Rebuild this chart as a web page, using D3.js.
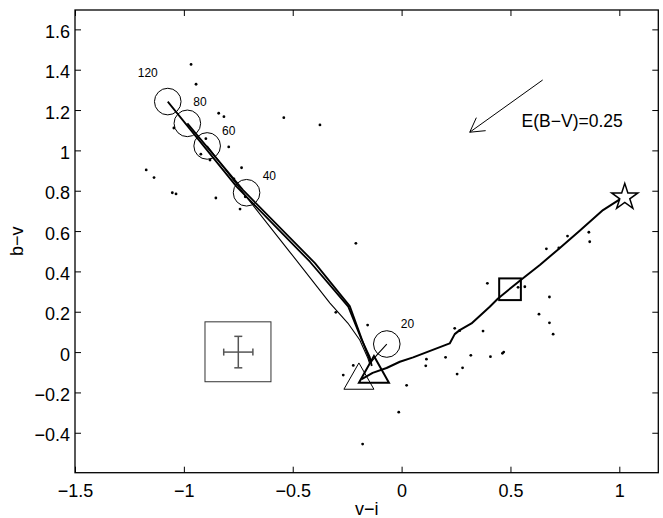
<!DOCTYPE html>
<html>
<head>
<meta charset="utf-8">
<script src="https://cdn.jsdelivr.net/npm/d3@7"></script>
<style>
  body { margin: 0; background: #fff; }
  text { font-family: "Liberation Sans", Arial, Helvetica, sans-serif; }
</style>
</head>
<body>
<script>
// ---------- data ----------
const xTickValues = [-1.5, -1, -0.5, 0, 0.5, 1];
const xTickLabels = ["\u22121.5", "\u22121", "\u22120.5", "0", "0.5", "1"];
const yTickValues = [-0.4, -0.2, 0, 0.2, 0.4, 0.6, 0.8, 1, 1.2, 1.4, 1.6];
const yTickLabels = ["\u22120.4", "\u22120.2", "0", "0.2", "0.4", "0.6", "0.8", "1", "1.2", "1.4", "1.6"];

// observed clusters (v-i, b-v)
const dotsVI = [-0.967, -0.944, -1.046, -1.173, -1.137, -1.053, -1.036, -0.853, -0.840, -0.816,
  -0.541, -0.899, -0.794, -0.922, -0.880, -0.735, -0.770, -0.718, -0.742, -0.375,
  -0.210, -0.302, -0.156, -0.222, -0.268, 0.114, 0.111, 0.202, 0.023, -0.013,
  -0.179, 0.244, 0.374, 0.318, 0.408, 0.463, 0.469, 0.280, 0.255, 0.394,
  0.535, 0.566, 0.665, 0.722, 0.762, 0.860, 0.864, 0.679, 0.631, 0.679, 0.696, 0.267];
const dotsBV = [1.426, 1.328, 1.111, 0.903, 0.865, 0.790, 0.784, 0.764, 1.184, 1.167,
  1.162, 1.058, 1.017, 0.981, 0.952, 0.914, 0.858, 0.770, 0.709, 1.126,
  0.539, 0.197, 0.134, -0.066, -0.114, -0.035, -0.068, -0.026, -0.165, -0.298,
  -0.456, 0.118, 0.104, -0.016, -0.023, -0.006, 0.000, -0.078, -0.109, 0.341,
  0.321, 0.324, 0.512, 0.516, 0.575, 0.594, 0.547, 0.273, 0.188, 0.145, 0.089, 0.106];

// model tracks
const trackA = [[-1.074, 1.242], [-0.758, 0.820], [-0.421, 0.448], [-0.245, 0.225], [-0.183, 0.060], [-0.146, -0.025], [-0.137, -0.069]];
const trackB = [[-0.984, 1.134], [-0.729, 0.804], [-0.398, 0.441], [-0.238, 0.228], [-0.178, 0.050], [-0.141, -0.055]];
const trackC = [[-0.893, 1.022], [-0.720, 0.779], [-0.513, 0.496], [-0.329, 0.243], [-0.247, 0.144], [-0.192, 0.060], [-0.155, -0.030], [-0.146, -0.060]];
const trackD = [[-0.068, 0.040], [-0.114, -0.015], [-0.138, -0.048]];
const trackRight = [[-0.183, -0.134], [-0.133, -0.103], [-0.069, -0.079], [-0.008, -0.048], [0.053, -0.026],
  [0.221, 0.043], [0.244, 0.089], [0.267, 0.109], [0.321, 0.142], [0.405, 0.225], [0.443, 0.266],
  [0.543, 0.354], [0.635, 0.432], [0.719, 0.509], [0.818, 0.602], [0.925, 0.704], [1.002, 0.757]];

// age circles
const ageLabels = ["120", "80", "60", "40", "20"];
const ageVI = [-1.074, -0.984, -0.893, -0.712, -0.068];
const ageBV = [1.242, 1.134, 1.022, 0.790, 0.040];
const ageLabelVI = [-1.212, -0.957, -0.825, -0.638, -0.004];
const ageLabelBV = [1.363, 1.220, 1.076, 0.853, 0.119];

// special markers
const starPt = [1.025, 0.768];
const squarePt = [0.498, 0.3115];
const triThickPt = [-0.127, -0.086];
const triThinPt = [-0.196, -0.119];

// reddening vector
const arrowFrom = [0.648, 1.349];
const arrowTo = [0.313, 1.090];
const arrowText = "E(B\u2212V)=0.25";
const arrowTextPt = [0.551, 1.118];

// error bar inset
const errCenter = [-0.75, 0];
const errVI = 0.067;
const errBV = 0.078;
const errBoxVI = [-0.903, -0.600];
const errBoxBV = [-0.147, 0.150];

const xLabel = "v\u2212i";
const yLabel = "b\u2212v";

// ---------- drawing ----------
const W = 663, H = 518;
const svg = d3.select("body").append("svg").attr("width", W).attr("height", H);

const x = d3.scaleLinear().domain([-1.5, 1.179]).range([75, 658.3]);
const y = d3.scaleLinear().domain([-0.598, 1.696]).range([472.7, 10]);

const FS = "18px";

function styleAxis(g) {
  g.select(".domain").remove();
  g.selectAll(".tick line").attr("stroke", "#000").attr("stroke-width", 1);
  g.selectAll(".tick text").attr("fill", "#000").style("font-size", FS)
    .style("font-family", '"Liberation Sans", Arial, sans-serif');
}

svg.append("g").attr("transform", `translate(0,${y.range()[0]})`)
  .call(d3.axisBottom(x).tickValues(xTickValues).tickFormat((d, i) => xTickLabels[i])
    .tickSizeInner(-6).tickSizeOuter(0).tickPadding(11.5))
  .call(styleAxis);
svg.append("g").attr("transform", `translate(0,${y.range()[1]})`)
  .call(d3.axisTop(x).tickValues(xTickValues).tickFormat("").tickSizeInner(-6).tickSizeOuter(0))
  .call(styleAxis);
svg.append("g").attr("transform", `translate(${x.range()[0]},0)`)
  .call(d3.axisLeft(y).tickValues(yTickValues).tickFormat((d, i) => yTickLabels[i])
    .tickSizeInner(-6).tickSizeOuter(0).tickPadding(5))
  .call(styleAxis)
  .call(g => g.selectAll(".tick text").attr("dy", "0.45em"));
svg.append("g").attr("transform", `translate(${x.range()[1]},0)`)
  .call(d3.axisRight(y).tickValues(yTickValues).tickFormat("").tickSizeInner(-6).tickSizeOuter(0))
  .call(styleAxis);

svg.append("rect")
  .attr("x", x.range()[0]).attr("y", y.range()[1])
  .attr("width", x.range()[1] - x.range()[0]).attr("height", y.range()[0] - y.range()[1])
  .attr("fill", "none").attr("stroke", "#000").attr("stroke-width", 1.3);

// axis labels
svg.append("text").attr("x", (x.range()[0] + x.range()[1]) / 2).attr("y", 515)
  .attr("text-anchor", "middle").style("font-size", FS).text(xLabel);
svg.append("text").attr("transform", `translate(23,${(y.range()[0] + y.range()[1]) / 2}) rotate(-90)`)
  .attr("text-anchor", "middle").style("font-size", FS).text(yLabel);

const plot = svg.append("g");

// dots
plot.selectAll("circle.dot").data(dotsVI.map((v, i) => [v, dotsBV[i]])).join("circle")
  .attr("class", "dot").attr("cx", d => x(d[0])).attr("cy", d => y(d[1])).attr("r", 1.4).attr("fill", "#000");

const line = d3.line().x(d => x(d[0])).y(d => y(d[1]));
const tracks = [
  { pts: trackA, w: 1.8 }, { pts: trackB, w: 1.8 }, { pts: trackC, w: 1.1 },
  { pts: trackD, w: 1.1 }, { pts: trackRight, w: 2 }
];
plot.selectAll("path.track").data(tracks).join("path").attr("class", "track")
  .attr("d", d => line(d.pts)).attr("fill", "none").attr("stroke", "#000")
  .attr("stroke-width", d => d.w).attr("stroke-linejoin", "round");

// age circles
plot.selectAll("circle.age").data(ageVI.map((v, i) => [v, ageBV[i]])).join("circle")
  .attr("class", "age").attr("cx", d => x(d[0])).attr("cy", d => y(d[1])).attr("r", 13.3)
  .attr("fill", "none").attr("stroke", "#000").attr("stroke-width", 1);
plot.selectAll("text.age").data(ageLabels).join("text").attr("class", "age")
  .attr("x", (d, i) => x(ageLabelVI[i])).attr("y", (d, i) => y(ageLabelBV[i]))
  .style("font-size", "12px").text(d => d);

// triangles
function triPath(w, h) { return `M0,${-h / 2}L${w / 2},${h / 2}L${-w / 2},${h / 2}Z`; }
plot.append("path").attr("d", triPath(30, 26.3))
  .attr("transform", `translate(${x(triThinPt[0])},${y(triThinPt[1])})`)
  .attr("fill", "none").attr("stroke", "#000").attr("stroke-width", 1);
plot.append("path").attr("d", triPath(30, 26.7))
  .attr("transform", `translate(${x(triThickPt[0])},${y(triThickPt[1])})`)
  .attr("fill", "none").attr("stroke", "#000").attr("stroke-width", 2);

// square
plot.append("rect").attr("x", x(squarePt[0]) - 10.85).attr("y", y(squarePt[1]) - 10.85)
  .attr("width", 21.7).attr("height", 21.7).attr("fill", "none").attr("stroke", "#000").attr("stroke-width", 2);

// star
const R = 13.8, r = R * 0.382;
const starPts = d3.range(10).map(i => {
  const a = -Math.PI / 2 + i * Math.PI / 5;
  const rr = i % 2 === 0 ? R : r;
  return [rr * Math.cos(a), rr * Math.sin(a)];
});
plot.append("path").attr("d", "M" + starPts.map(p => p.join(",")).join("L") + "Z")
  .attr("transform", `translate(${x(starPt[0])},${y(starPt[1])})`)
  .attr("fill", "none").attr("stroke", "#000").attr("stroke-width", 1.5).attr("stroke-linejoin", "miter");

// reddening arrow
const ax0 = x(arrowFrom[0]), ay0 = y(arrowFrom[1]), ax1 = x(arrowTo[0]), ay1 = y(arrowTo[1]);
plot.append("line").attr("x1", ax0).attr("y1", ay0).attr("x2", ax1).attr("y2", ay1)
  .attr("stroke", "#000").attr("stroke-width", 1);
const ang = Math.atan2(ay0 - ay1, ax0 - ax1);
[-Math.PI / 6, Math.PI / 6].forEach(da => {
  plot.append("line").attr("x1", ax1).attr("y1", ay1)
    .attr("x2", ax1 + 16 * Math.cos(ang + da)).attr("y2", ay1 + 16 * Math.sin(ang + da))
    .attr("stroke", "#000").attr("stroke-width", 1);
});
plot.append("text").attr("x", x(arrowTextPt[0])).attr("y", y(arrowTextPt[1]))
  .style("font-size", "17.5px").text(arrowText);

// error-bar inset
plot.append("rect").attr("x", x(errBoxVI[0])).attr("y", y(errBoxBV[1]))
  .attr("width", x(errBoxVI[1]) - x(errBoxVI[0])).attr("height", y(errBoxBV[0]) - y(errBoxBV[1]))
  .attr("fill", "none").attr("stroke", "#333").attr("stroke-width", 1);
const ex = x(errCenter[0]), ey = y(errCenter[1]);
const exl = x(errCenter[0] - errVI), exr = x(errCenter[0] + errVI);
const eyt = y(errCenter[1] + errBV), eyb = y(errCenter[1] - errBV);
const eg = plot.append("g").attr("stroke", "#555").attr("stroke-width", 1.5);
eg.append("line").attr("x1", exl).attr("x2", exr).attr("y1", ey).attr("y2", ey);
eg.append("line").attr("x1", ex).attr("x2", ex).attr("y1", eyt).attr("y2", eyb);
eg.append("line").attr("x1", exl).attr("x2", exl).attr("y1", ey - 3.5).attr("y2", ey + 3.5);
eg.append("line").attr("x1", exr).attr("x2", exr).attr("y1", ey - 3.5).attr("y2", ey + 3.5);
eg.append("line").attr("x1", ex - 4).attr("x2", ex + 4).attr("y1", eyt).attr("y2", eyt);
eg.append("line").attr("x1", ex - 4).attr("x2", ex + 4).attr("y1", eyb).attr("y2", eyb);
</script>
</body>
</html>
